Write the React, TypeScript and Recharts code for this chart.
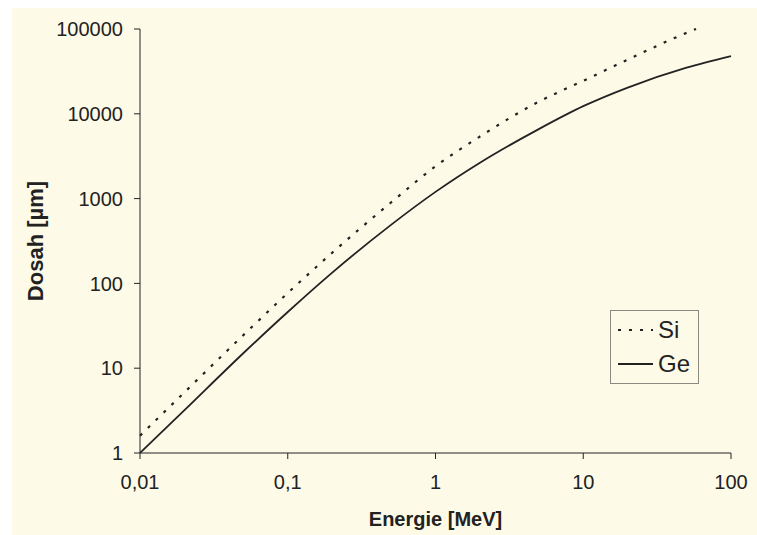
import React from "react";
import { LineChart, Line, XAxis, YAxis, Legend } from "recharts";

// energie v MeV, dosah v µm
const siEnergy = [0.01, 0.02, 0.05, 0.1, 0.2, 0.5, 1, 2, 5, 10, 20, 50, 58];
const siRange = [1.6, 5.2, 24.5, 77, 230, 900, 2400, 5400, 13900, 24500, 43600, 90000, 100000];
const geEnergy = [0.01, 0.02, 0.05, 0.1, 0.2, 0.5, 1, 2, 5, 10, 20, 50, 100];
const geRange = [1, 3.2, 15, 46, 134, 490, 1200, 2650, 6600, 12300, 20400, 35000, 48000];

const seriesOrder = ["Si", "Ge"];
const xTicks = [0.01, 0.1, 1, 10, 100];
const yTicks = [1, 10, 100, 1000, 10000, 100000];

const siData = siEnergy.map((e, i) => ({ e, v: siRange[i] }));
const geData = geEnergy.map((e, i) => ({ e, v: geRange[i] }));

const font = "'Liberation Sans', Arial, sans-serif";
const ink = "#222";

const fmtX = (v: number) => String(v).replace(".", ",");

function LegendBox({ payload }: any) {
  const items = [...(payload || [])].sort((a: any, b: any) => seriesOrder.indexOf(a.value) - seriesOrder.indexOf(b.value));
  return (
    <div style={{ border: "1px solid #8a8a80", width: 89, padding: "2px 0 2px 6px", boxSizing: "border-box", fontFamily: font, color: ink }}>
      {items.map((p: any) => (
        <div key={p.value} style={{ display: "flex", alignItems: "center", height: 34 }}>
          <svg width={36} height={10}>
            <line x1={1} y1={5} x2={36} y2={5} stroke={ink} strokeWidth={1.8} strokeDasharray={p.payload?.strokeDasharray} />
          </svg>
          <span style={{ fontSize: 24, marginLeft: 5 }}>{p.value}</span>
        </div>
      ))}
    </div>
  );
}

export default function App() {
  return (
    <div style={{ position: "absolute", left: 0, top: 0, width: 757, height: 535, background: "#fff" }}>
      <div style={{ position: "absolute", left: 12, top: 8, right: 0, bottom: 0, background: "#fdfbe8" }} />
      <div style={{ position: "absolute", left: 0, top: 0 }}>
        <LineChart width={757} height={535} margin={{ top: 29, right: 26, left: 80, bottom: 42 }} style={{ fontFamily: font }}>
          <XAxis
            dataKey="e"
            type="number"
            scale="log"
            domain={[0.01, 100]}
            ticks={xTicks}
            tickFormatter={fmtX}
            allowDuplicatedCategory={false}
            stroke={ink}
            tickSize={6}
            tickMargin={16}
            height={40}
            tick={{ fill: ink, fontSize: 20 }}
            label={{
              content: ({ viewBox }: any) => (
                <text x={viewBox.x + viewBox.width / 2} y={viewBox.y + 73} textAnchor="middle" fontSize={20} fontWeight="bold" fill={ink} fontFamily={font}>
                  Energie [MeV]
                </text>
              ),
            }}
          />
          <YAxis
            dataKey="v"
            type="number"
            scale="log"
            domain={[1, 100000]}
            ticks={yTicks}
            width={60}
            stroke={ink}
            tickSize={6}
            tickMargin={11}
            tick={{ fill: ink, fontSize: 20 }}
            label={{
              content: ({ viewBox }: any) => {
                const x = viewBox.x - 45;
                const y = viewBox.y + viewBox.height / 2;
                return (
                  <text x={x} y={y} transform={`rotate(-90 ${x} ${y})`} textAnchor="middle" dominantBaseline="central" fontSize={22} fontWeight="bold" fill={ink} fontFamily={font}>
                    Dosah [µm]
                  </text>
                );
              },
            }}
          />
          <Legend
            layout="vertical"
            verticalAlign="middle"
            align="center"
            content={<LegendBox />}
            wrapperStyle={{ left: 610, top: 310, width: 90 }}
          />
          <Line data={siData} dataKey="v" name="Si" type="monotone" stroke={ink} strokeWidth={2.2} strokeDasharray="3 8" dot={false} isAnimationActive={false} legendType="line" />
          <Line data={geData} dataKey="v" name="Ge" type="monotone" stroke={ink} strokeWidth={1.8} dot={false} isAnimationActive={false} legendType="line" />
        </LineChart>
      </div>
    </div>
  );
}
